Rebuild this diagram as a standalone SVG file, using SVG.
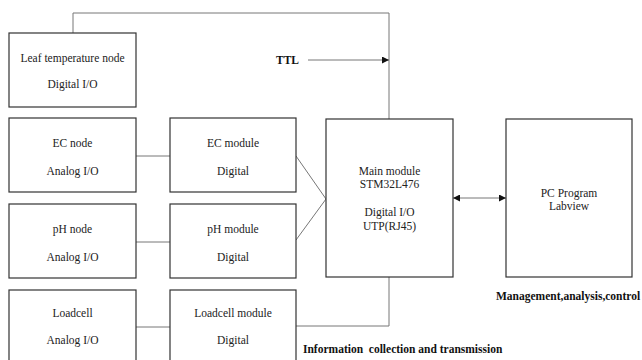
<svg xmlns="http://www.w3.org/2000/svg" width="642" height="360" viewBox="0 0 642 360">
<style>
.box{fill:#fff;stroke:#333;stroke-width:1.2}
.t{font-family:"Liberation Serif","Times New Roman",serif;font-size:11.5px;fill:#222;text-anchor:middle}
.b{font-family:"Liberation Serif","Times New Roman",serif;font-size:11.5px;font-weight:bold;fill:#111;white-space:pre}
.ln{fill:none;stroke:#777;stroke-width:1}
</style>
<defs>
<marker id="ah" viewBox="0 0 10 10" refX="10" refY="5" markerWidth="7" markerHeight="7" orient="auto-start-reverse" markerUnits="userSpaceOnUse">
<path d="M0,0 L10,5 L0,10 z" fill="#111"/>
</marker>
</defs>
<rect width="642" height="360" fill="#fff"/>
<g id="connectors">
<path class="ln" d="M73,33 V13 H389 V119"/>
<path class="ln" d="M308,60 H389" marker-end="url(#ah)"/>
<path class="ln" d="M136,156 H170"/>
<path class="ln" d="M136,242 H170"/>
<path class="ln" d="M136,327 H170"/>
<path class="ln" d="M296,156 L326,199 L296,240"/>
<path class="ln" d="M389,277 V326 H296"/>
<path class="ln" d="M453,198 H506" marker-start="url(#ah)" marker-end="url(#ah)"/>
</g>
<g id="leaf">
<rect class="box" x="9" y="33" width="127" height="74"/>
<text class="t" x="72.5" y="62">Leaf temperature node</text>
<text class="t" x="72.5" y="88">Digital I/O</text>
</g>
<g id="ec-node">
<rect class="box" x="9" y="118" width="127" height="74"/>
<text class="t" x="72.5" y="147">EC node</text>
<text class="t" x="72.5" y="175">Analog I/O</text>
</g>
<g id="ec-module">
<rect class="box" x="170" y="118" width="126" height="74"/>
<text class="t" x="233" y="147">EC module</text>
<text class="t" x="233" y="175">Digital</text>
</g>
<g id="ph-node">
<rect class="box" x="9" y="204" width="127" height="74"/>
<text class="t" x="72.5" y="233">pH node</text>
<text class="t" x="72.5" y="261">Analog I/O</text>
</g>
<g id="ph-module">
<rect class="box" x="170" y="204" width="126" height="74"/>
<text class="t" x="233" y="233">pH module</text>
<text class="t" x="233" y="261">Digital</text>
</g>
<g id="loadcell-node">
<rect class="box" x="9" y="290" width="127" height="80"/>
<text class="t" x="72.5" y="317">Loadcell</text>
<text class="t" x="72.5" y="344">Analog I/O</text>
</g>
<g id="loadcell-module">
<rect class="box" x="170" y="290" width="126" height="80"/>
<text class="t" x="233" y="317">Loadcell module</text>
<text class="t" x="233" y="344">Digital</text>
</g>
<g id="main-module">
<rect class="box" x="326" y="119" width="127" height="158"/>
<text class="t" x="389.5" y="175">Main module</text>
<text class="t" x="389.5" y="188">STM32L476</text>
<text class="t" x="389.5" y="216">Digital I/O</text>
<text class="t" x="389.5" y="230">UTP(RJ45)</text>
</g>
<g id="pc">
<rect class="box" x="506" y="119" width="126" height="158"/>
<text class="t" x="569" y="197">PC Program</text>
<text class="t" x="569" y="210">Labview</text>
</g>
<text class="b" x="276" y="64">TTL</text>
<text class="b" x="496" y="300">Management,analysis,control</text>
<text class="b" x="303" y="353">Information  collection and transmission</text>
</svg>
